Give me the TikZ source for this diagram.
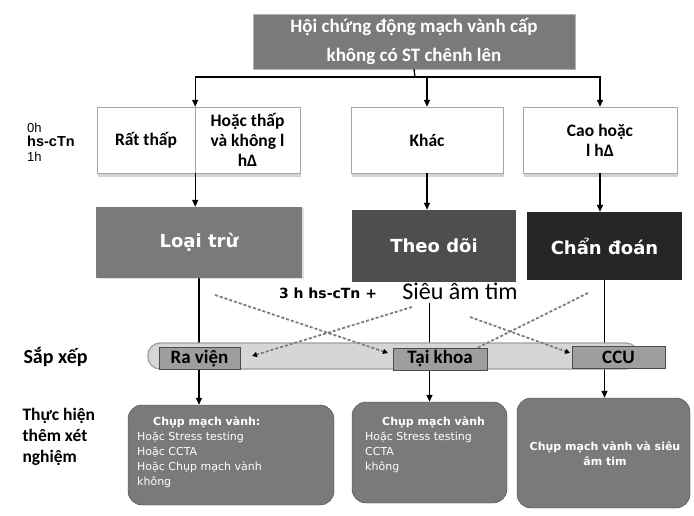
\documentclass[tikz,border=0pt]{standalone}
\usepackage{fontspec}
\setmainfont{Carlito}
\newfontfamily\gothicfont{DejaVu Sans}
\newfontfamily\arialfont{Liberation Sans}
\usetikzlibrary{arrows.meta,positioning,calc,shadows,backgrounds}
\definecolor{boxgray}{RGB}{122,122,122}
\definecolor{midgray}{RGB}{78,78,78}
\definecolor{darkbox}{RGB}{38,38,38}
\definecolor{bandgray}{RGB}{214,214,214}
\definecolor{tabgray}{RGB}{158,158,158}
\definecolor{dashgray}{RGB}{125,125,125}

\begin{document}
\begin{tikzpicture}[x=1pt,y=-1pt,
    arr/.style={line width=1.3pt, -{Triangle[length=7pt,width=6pt]}},
    dotarr/.style={dashgray, line width=1.8pt, dash pattern=on 3pt off 2pt,
      -{Triangle[length=5pt,width=5pt,black]}},
    plainbox/.style={draw=gray!70, fill=white, minimum height=66pt, inner sep=2pt, align=center,
      font=\bfseries\fontsize{17.5}{20}\selectfont,
      drop shadow={shadow xshift=1pt, shadow yshift=-4pt, opacity=.35}},
    stagebox/.style={text=white, font=\gothicfont\bfseries\fontsize{18}{20}\selectfont},
    tab/.style={fill=tabgray, draw=gray!60!black, minimum height=22pt, inner sep=1pt,
      font=\bfseries\fontsize{19}{19}\selectfont},
    testbox/.style={rounded corners=14pt, fill=boxgray, draw=gray!50!black, text=white},
    sidelabel/.style={anchor=west, align=left, font=\bfseries\fontsize{17.5}{21}\selectfont}]
  \useasboundingbox (0,0) rectangle (694,515);

  % --- top box and the split
  \node[fill=boxgray, draw=gray!60, minimum width=322pt, minimum height=55pt, text=white, align=center,
    font=\bfseries\fontsize{19}{29}\selectfont] (acs) at (414,41.5) {Hội chứng động mạch vành cấp\\không có ST chênh lên};
  \coordinate (split) at (415,77);

  % --- 0h/1h hs-cTn boxes
  \node[plainbox, minimum width=98pt] (rat) at (146,140) {Rất thấp};
  \node[plainbox, minimum width=105pt] (hoac) at (247.5,140) {Hoặc thấp\\và không l\\hΔ};
  \node[plainbox, minimum width=152pt] (khac) at (427,140) {Khác};
  \node[plainbox, minimum width=154pt] (cao) at (600,140) {Cao hoặc\\l hΔ};
  \node[sidelabel, inner sep=0pt, font=\arialfont\fontsize{13}{14.5}\selectfont] (cTn) at (27,142)
    {0h\\\textbf{\fontsize{14.5}{14.5}\selectfont hs-cTn}\\1h};

  \draw[line width=1.3pt] (acs.south) -- (split);
  \draw[arr] (split) -| (rat.north east);
  \draw[arr] (split) -| (khac.north);
  \draw[arr] (split) -| (cao.north);

  % --- rule out / observe / rule in
  \node[stagebox, fill=boxgray, minimum width=206pt, minimum height=71pt,
    drop shadow={shadow xshift=2pt, shadow yshift=-1pt, opacity=.25}] (loai) at (199,242.5) {Loại trừ};
  \node[stagebox, fill=midgray, minimum width=164pt, minimum height=72pt] (theo) at (434,246) {Theo dõi};
  \node[stagebox, fill=darkbox, minimum width=155pt, minimum height=68pt] (chan) at (604.5,246) {Chẩn đoán};

  \draw[arr] (rat.south east) -- (rat.south east |- loai.north);
  \draw[arr] (khac.south) -- (khac.south |- theo.north);
  \draw[arr] (cao.south) -- (cao.south |- chan.north);

  \node[font=\gothicfont\bfseries\fontsize{14}{14}\selectfont] (hscTn) at (328,293) {3 h hs-cTn +};
  \node[font=\fontsize{24}{24}\selectfont] (sieu) at (460,291) {Siêu âm tim};

  % --- further tests
  \node[testbox, minimum width=206pt, minimum height=100pt] (testA) at (231,455) {};
  \node[testbox, minimum width=155pt, minimum height=101pt] (testB) at (429.5,452.5) {};
  \node[testbox, minimum width=173pt, minimum height=110pt] (testC) at (603.5,453) {};
  \node[anchor=north west, align=left, text=white, inner sep=0pt,
    font=\gothicfont\fontsize{11}{15}\selectfont] (txtA) at (137,416)
    {\hspace*{16pt}\textbf{Chụp mạch vành:}\\Hoặc Stress testing\\Hoặc CCTA\\Hoặc Chụp mạch vành\\không};
  \node[anchor=north west, align=left, text=white, inner sep=0pt,
    font=\gothicfont\fontsize{11}{15}\selectfont] (txtB) at (365,416)
    {\hspace*{17pt}\textbf{Chụp mạch vành}\\Hoặc Stress testing\\CCTA\\không};
  \node[align=center, text=white, font=\gothicfont\bfseries\fontsize{11}{15}\selectfont] (txtC) at (605,454)
    {Chụp mạch vành và siêu\\âm tim};

  % --- disposition band
  \node[fill=bandgray, draw=gray!75, line width=1.2pt, rounded corners=12pt,
    minimum width=490pt, minimum height=26pt] (band) at (393,356) {};

  \begin{pgfonlayer}{background}
    \draw[arr] (loai.south) -- (loai.south |- testA.north);
    \draw[arr] (sieu.south -| testB.north) -- (testB.north);
    \draw[arr] (chan.south) -- (chan.south |- testC.north);
  \end{pgfonlayer}

  \coordinate (d1s) at (215,295);  \coordinate (d1e) at (388,353);
  \coordinate (d2s) at (412,307);  \coordinate (d2e) at (252,356);
  \coordinate (d3s) at (588,293);  \coordinate (d3e) at (473,350);
  \coordinate (d4s) at (470,317);  \coordinate (d4e) at (570,353);
  \draw[dotarr] (d1s) -- (d1e);
  \draw[dotarr] (d2s) -- (d2e);
  \draw[dotarr, -] (d3s) -- (d3e);
  \draw[dotarr] (d4s) -- (d4e);

  \node[tab, minimum width=81pt] (ravien) at (199.5,358.5) {Ra viện};
  \node[tab, minimum width=94pt] (tai) at (440,359) {Tại khoa};
  \node[tab, minimum width=93pt] (ccu) at (618.5,357) {CCU};

  \node[sidelabel, font=\bfseries\fontsize{20}{21}\selectfont] (sapxep) at (20,357) {Sắp xếp};
  \node[sidelabel] (thuchien) at (19,437) {Thực hiện\\thêm xét\\nghiệm};
\end{tikzpicture}
\end{document}
